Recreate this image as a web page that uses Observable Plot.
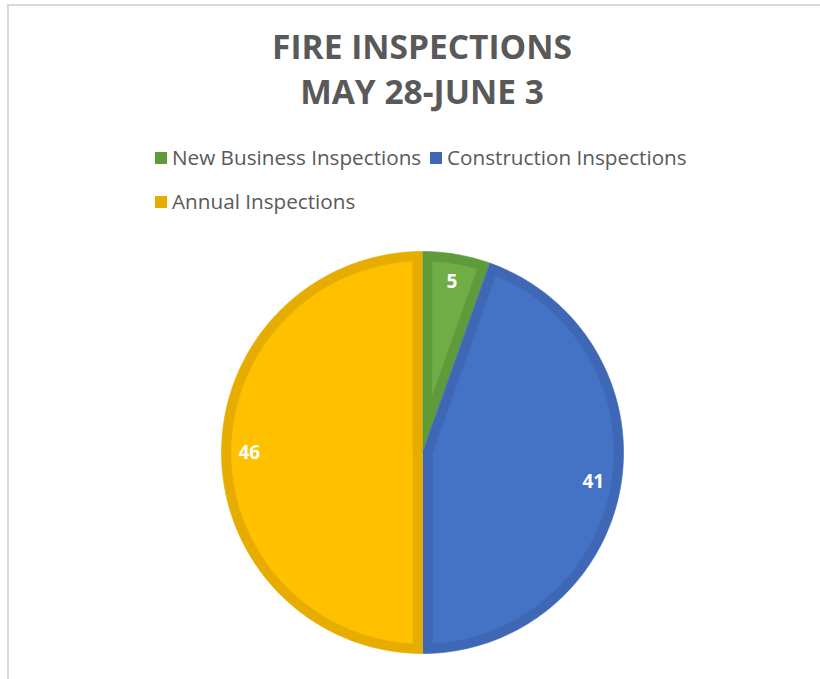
<!DOCTYPE html>
<html>
<head>
<meta charset="utf-8">
<script src="https://cdn.jsdelivr.net/npm/d3@7"></script>
<script src="https://cdn.jsdelivr.net/npm/@observablehq/plot@0.6"></script>
<style>
  html, body { margin: 0; padding: 0; background: #fff; }
  #page { position: relative; width: 820px; height: 679px; overflow: hidden; font-family: "Open Sans", sans-serif; }
  #frame { position: absolute; left: 7px; top: 4px; width: 900px; height: 800px; border: 2px solid #D9D9D9; box-sizing: border-box; }
  #title { position: absolute; left: 0; top: 24px; width: 844px; text-align: center; color: #595959; font-weight: 700; font-size: 33.5px; line-height: 45px; }
  .leg { position: absolute; color: #595959; font-size: 20.7px; line-height: 26px; white-space: nowrap; }
  .sw { position: absolute; width: 12px; height: 12px; }
  #chart { position: absolute; left: 0; top: 232px; }
</style>
</head>
<body>
<div id="page">
  <div id="frame"></div>
  <div id="title"></div>
  <div id="legend"></div>
  <div id="chart"></div>
</div>
<script>
const titleLines = ["FIRE INSPECTIONS", "MAY 28-JUNE 3"];
const categories = ["New Business Inspections", "Construction Inspections", "Annual Inspections"];
const values = [5, 41, 46];
const fillColors = ["#70AD47", "#4472C4", "#FFC000"];
const edgeColors = ["#5F9A3B", "#3E67B5", "#E6AC00"];

// title
document.getElementById("title").innerHTML = titleLines.map(t => `<div>${t}</div>`).join("");

// legend (Excel-style wrapped)
const legendPos = [[155, 145], [430, 145], [155, 189]];
const legend = document.getElementById("legend");
categories.forEach((c, i) => {
  const [lx, ly] = legendPos[i];
  const sw = document.createElement("div");
  sw.className = "sw";
  sw.style.left = lx + "px";
  sw.style.top = (ly + 7) + "px";
  sw.style.background = edgeColors[i];
  legend.appendChild(sw);
  const t = document.createElement("div");
  t.className = "leg";
  t.style.left = (lx + 17) + "px";
  t.style.top = (ly - 1) + "px";
  t.textContent = c;
  legend.appendChild(t);
});

// pie geometry (unit radius, angle 0 at top, clockwise)
const arcs = d3.pie().sort(null).value(d => d)(values);
const R = 201;               // px radius, used for scale range
const border = 10 / R;       // inner border thickness in unit radius
const rows = [];
arcs.forEach((a, i) => {
  const a0 = a.startAngle, a1 = a.endAngle;
  const steps = Math.max(4, Math.ceil((a1 - a0) / (Math.PI / 180)));
  // outer (dark edge) wedge
  rows.push({key: "o" + i, x: 0, y: 0, color: edgeColors[i]});
  for (let k = 0; k <= steps; k++) {
    const t = a0 + (a1 - a0) * k / steps;
    rows.push({key: "o" + i, x: Math.sin(t), y: Math.cos(t), color: edgeColors[i]});
  }
  // inner (lighter) wedge inset by border
  const h = (a1 - a0) / 2, mid = (a0 + a1) / 2;
  const apexR = border / Math.sin(h);
  const ri = 1 - border;
  const delta = Math.asin(border / ri);
  rows.push({key: "i" + i, x: apexR * Math.sin(mid), y: apexR * Math.cos(mid), color: fillColors[i]});
  for (let k = 0; k <= steps; k++) {
    const t = (a0 + delta) + ((a1 - delta) - (a0 + delta)) * k / steps;
    rows.push({key: "i" + i, x: ri * Math.sin(t), y: ri * Math.cos(t), color: fillColors[i]});
  }
});
const labels = arcs.map((a, i) => {
  const mid = (a.startAngle + a.endAngle) / 2;
  return {x: 0.862 * Math.sin(mid), y: 0.862 * Math.cos(mid), text: String(values[i])};
});

const cx = 422, cy = 452 - 232;
const chart = Plot.plot({
  width: 820,
  height: 440,
  margin: 0,
  style: {fontFamily: "'Open Sans', sans-serif", background: "transparent", overflow: "visible"},
  x: {domain: [-1, 1], range: [cx - R, cx + R], axis: null},
  y: {domain: [-1, 1], range: [cy + R, cy - R], axis: null},
  color: {type: "identity"},
  marks: [
    Plot.line(rows.filter(r => r.key[0] === "o"), {x: "x", y: "y", z: "key", fill: "color", stroke: "color", strokeWidth: 0.6}),
    Plot.line(rows.filter(r => r.key[0] === "i"), {x: "x", y: "y", z: "key", fill: "color", stroke: "color", strokeWidth: 0.6}),
    Plot.text(labels, {x: "x", y: "y", text: "text", fill: "white", fontSize: 19, fontWeight: "bold"})
  ]
});
document.getElementById("chart").appendChild(chart);
</script>
</body>
</html>
